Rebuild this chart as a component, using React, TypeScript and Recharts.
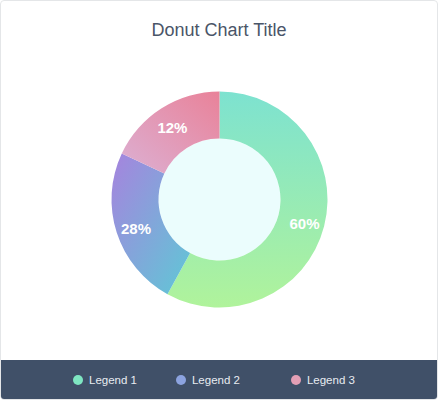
import React from "react";
import { PieChart, Pie, Cell } from "recharts";

const legendNames = ["Legend 1", "Legend 2", "Legend 3"];
const sliceValues = [58, 24, 18];
const sliceLabels = ["60%", "28%", "12%"];
const legendColors = ["#7fe6c2", "#8ca3df", "#e39fb5"];

// gradient stops for each slice [from, to, x1, y1, x2, y2]
const gradients: [string, string, number, number, number, number][] = [
  ["#7de2d0", "#b0f39b", 0, 0, 0, 1],
  ["#a683de", "#5fc8d6", 0, 0, 1, 1],
  ["#dcb0d3", "#e98299", 0, 1, 1, 0],
];

const data = legendNames.map((name, i) => ({ name, value: sliceValues[i], label: sliceLabels[i] }));
const centerData = [{ name: "center", value: 1 }];

const RAD = Math.PI / 180;
const legendGaps = [39, 51, 0];

const renderLabel = (props: any) => {
  const { cx, cy, midAngle, innerRadius, outerRadius, index } = props;
  const r = innerRadius + (outerRadius - innerRadius) * 0.57;
  const x = cx + r * Math.cos(-midAngle * RAD);
  const y = cy + r * Math.sin(-midAngle * RAD) + 2;
  return (
    <text
      x={x}
      y={y}
      fill="#ffffff"
      textAnchor="middle"
      dominantBaseline="central"
      fontSize={15}
      fontWeight={700}
      fontFamily="'Liberation Sans', Arial, sans-serif"
    >
      {sliceLabels[index]}
    </text>
  );
};

export default function App() {
  return (
    <div
      style={{
        width: 438,
        height: 400,
        position: "relative",
        boxSizing: "border-box",
        border: "1px solid #e4e6e8",
        borderRadius: 4,
        background: "#ffffff",
        overflow: "hidden",
        fontFamily: "'Liberation Sans', Arial, sans-serif",
      }}
    >
      <style>{`body{margin:0}`}</style>
      <div
        style={{
          position: "absolute",
          top: 19,
          left: 0,
          width: "100%",
          textAlign: "center",
          fontSize: 18,
          color: "#4a5568",
        }}
      >
        Donut Chart Title
      </div>
      <div style={{ position: "absolute", left: 0, top: 0 }}>
        <PieChart width={436} height={358}>
          <defs>
            {gradients.map((g, i) => (
              <linearGradient key={i} id={`grad${i}`} x1={g[2]} y1={g[3]} x2={g[4]} y2={g[5]}>
                <stop offset="0%" stopColor={g[0]} />
                <stop offset="100%" stopColor={g[1]} />
              </linearGradient>
            ))}
          </defs>
          <Pie
            data={centerData}
            dataKey="value"
            cx={213.5}
            cy={193.5}
            innerRadius={0}
            outerRadius={61}
            fill="#ebfdfd"
            stroke="none"
            isAnimationActive={false}
          />
          <Pie
            data={data}
            dataKey="value"
            cx={213.5}
            cy={193.5}
            innerRadius={61}
            outerRadius={108}
            startAngle={90}
            endAngle={-270}
            stroke="none"
            labelLine={false}
            label={renderLabel}
            isAnimationActive={false}
          >
            {data.map((d, i) => (
              <Cell key={d.name} fill={`url(#grad${i})`} />
            ))}
          </Pie>
        </PieChart>
      </div>
      <div
        style={{
          position: "absolute",
          left: 0,
          bottom: 0,
          width: "100%",
          height: 39,
          background: "#405068",
          display: "flex",
          alignItems: "center",
          paddingLeft: 72,
          boxSizing: "border-box",
        }}
      >
        {legendNames.map((name, i) => (
          <div key={name} style={{ display: "flex", alignItems: "center", gap: 6, marginRight: legendGaps[i] }}>
            <span
              style={{
                width: 10,
                height: 10,
                borderRadius: "50%",
                background: legendColors[i],
                display: "inline-block",
              }}
            />
            <span style={{ color: "#e8ecf1", fontSize: 11.5 }}>{name}</span>
          </div>
        ))}
      </div>
    </div>
  );
}
